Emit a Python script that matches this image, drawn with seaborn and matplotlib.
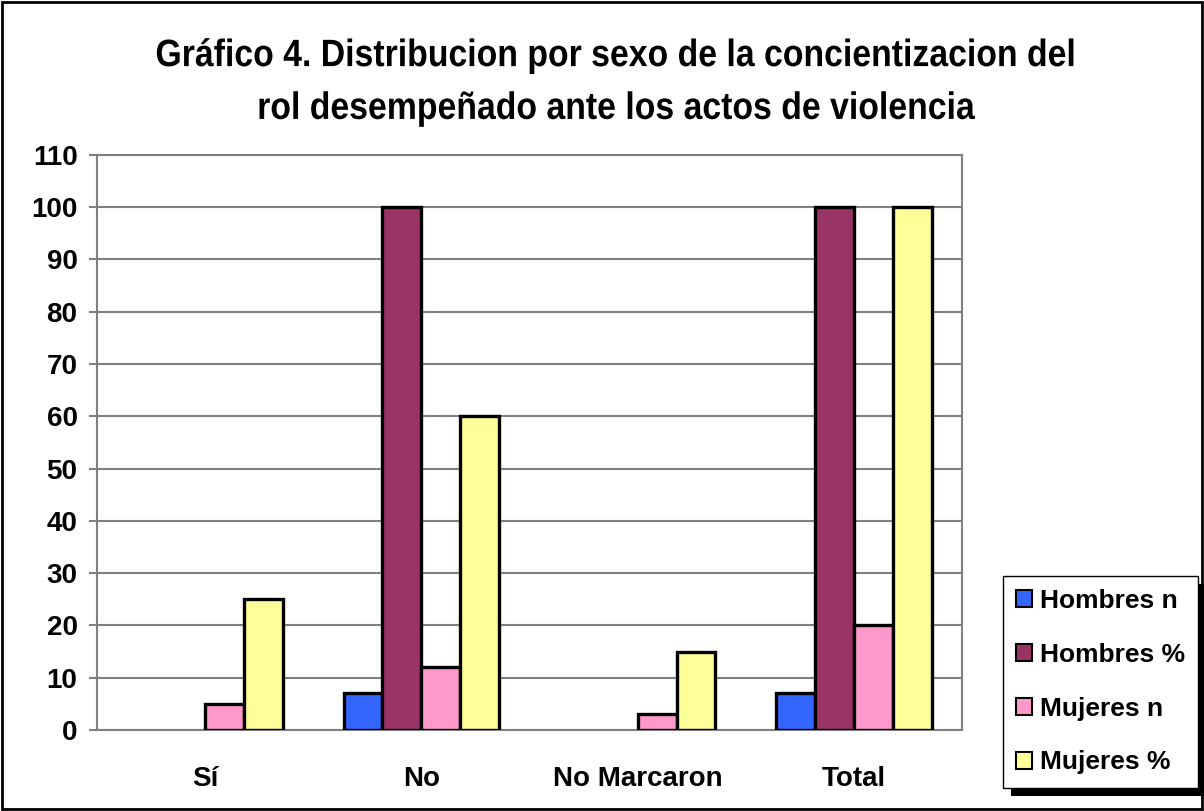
import pandas as pd
import seaborn as sns
import matplotlib.pyplot as plt
from matplotlib.patches import Rectangle, Patch
from matplotlib.patheffects import AbstractPathEffect
from matplotlib.transforms import Affine2D

categorias = ["Sí", "No", "No Marcaron", "Total"]
series = ["Hombres n", "Hombres %", "Mujeres n", "Mujeres %"]
hombres_n = [0, 7, 0, 7]
hombres_pct = [0, 100, 0, 100]
mujeres_n = [5, 12, 3, 20]
mujeres_pct = [25, 60, 15, 100]
colores = ["#3366FF", "#993366", "#FF99CC", "#FFFF99"]
titulo = ("Gráfico 4. Distribucion por sexo de la concientizacion del\n"
          "rol desempeñado ante los actos de violencia")


class Squeeze(AbstractPathEffect):
    """Narrows text horizontally (the original uses a condensed Arial look)."""

    def __init__(self, sx=0.9):
        super().__init__()
        self.sx = sx

    def draw_path(self, renderer, gc, tpath, affine, rgbFace=None):
        ext = tpath.get_extents(affine)
        cx = (ext.x0 + ext.x1) / 2
        t = affine + Affine2D().translate(-cx, 0).scale(self.sx, 1).translate(cx, 0)
        renderer.draw_path(gc, tpath, t, rgbFace)


filas = []
for nombre, valores in zip(series, [hombres_n, hombres_pct, mujeres_n, mujeres_pct]):
    for cat, v in zip(categorias, valores):
        filas.append({"categoria": cat, "serie": nombre, "valor": v})
df = pd.DataFrame(filas)

sns.set_style("white")
plt.rcParams["font.family"] = ["Liberation Sans", "DejaVu Sans"]
plt.rcParams["font.weight"] = "bold"
plt.rcParams["text.color"] = "black"

fig = plt.figure(figsize=(12.04, 8.11), dpi=100)
ax = fig.add_axes([0.0806, 0.0999, 0.7184, 0.7092])

sns.barplot(data=df, x="categoria", y="valor", hue="serie", order=categorias,
            hue_order=series, palette=colores, width=0.72, saturation=1,
            edgecolor="black", linewidth=2.4, ax=ax, zorder=3, legend=False)
# zero values: no visible bar
for p in ax.patches:
    if p.get_height() == 0:
        p.set_linewidth(0)

ax.set_ylim(0, 110)
ax.set_yticks(range(0, 111, 10))
ax.set_xlim(-0.5, 3.5)
ax.grid(axis="y", color="#808080", linewidth=1.5, zorder=0)
ax.set_axisbelow(True)
for s in ax.spines.values():
    s.set_color("#808080")
    s.set_linewidth(1.5)

ax.tick_params(axis="y", direction="out", length=6, color="#808080", width=1.5,
               labelsize=20, pad=8, left=True, labelcolor="black")
ax.tick_params(axis="x", which="major", length=0, labelsize=20, pad=26, labelcolor="black")
ax.set_xticks([0.5, 1.5, 2.5], minor=True)
ax.tick_params(axis="x", which="minor", direction="out", length=7, color="#808080", width=1.5)
ax.set_xlabel("")
ax.set_ylabel("")

fig.suptitle(titulo, x=0.512, y=0.953, fontsize=27.5, fontweight="bold", linespacing=1.6,
             path_effects=[Squeeze(0.885)])

handles = [Patch(facecolor=c, edgecolor="black", linewidth=1.5) for c in colores]
leg = fig.legend(handles, series, loc="upper left", bbox_to_anchor=(0.833, 0.29),
                 bbox_transform=fig.transFigure, fontsize=19, frameon=True,
                 fancybox=False, edgecolor="black", framealpha=1,
                 handlelength=0.6, handleheight=0.6, handletextpad=0.3,
                 labelspacing=1.13, borderpad=0.5, borderaxespad=0)
leg.get_frame().set_linewidth(1)

# black drop shadow behind the legend box
fig.canvas.draw()
bb = leg.get_frame().get_window_extent()
W, H = fig.bbox.width, fig.bbox.height
fig.patches.append(Rectangle(((bb.x0 + 8) / W, (bb.y0 - 8) / H), bb.width / W, bb.height / H,
                             transform=fig.transFigure, facecolor="black",
                             edgecolor="none", zorder=4))

fig.patches.append(Rectangle((0.002, 0.003), 0.996, 0.994, transform=fig.transFigure,
                             fill=False, edgecolor="black", linewidth=2))

fig.savefig("out.png", dpi=100)
